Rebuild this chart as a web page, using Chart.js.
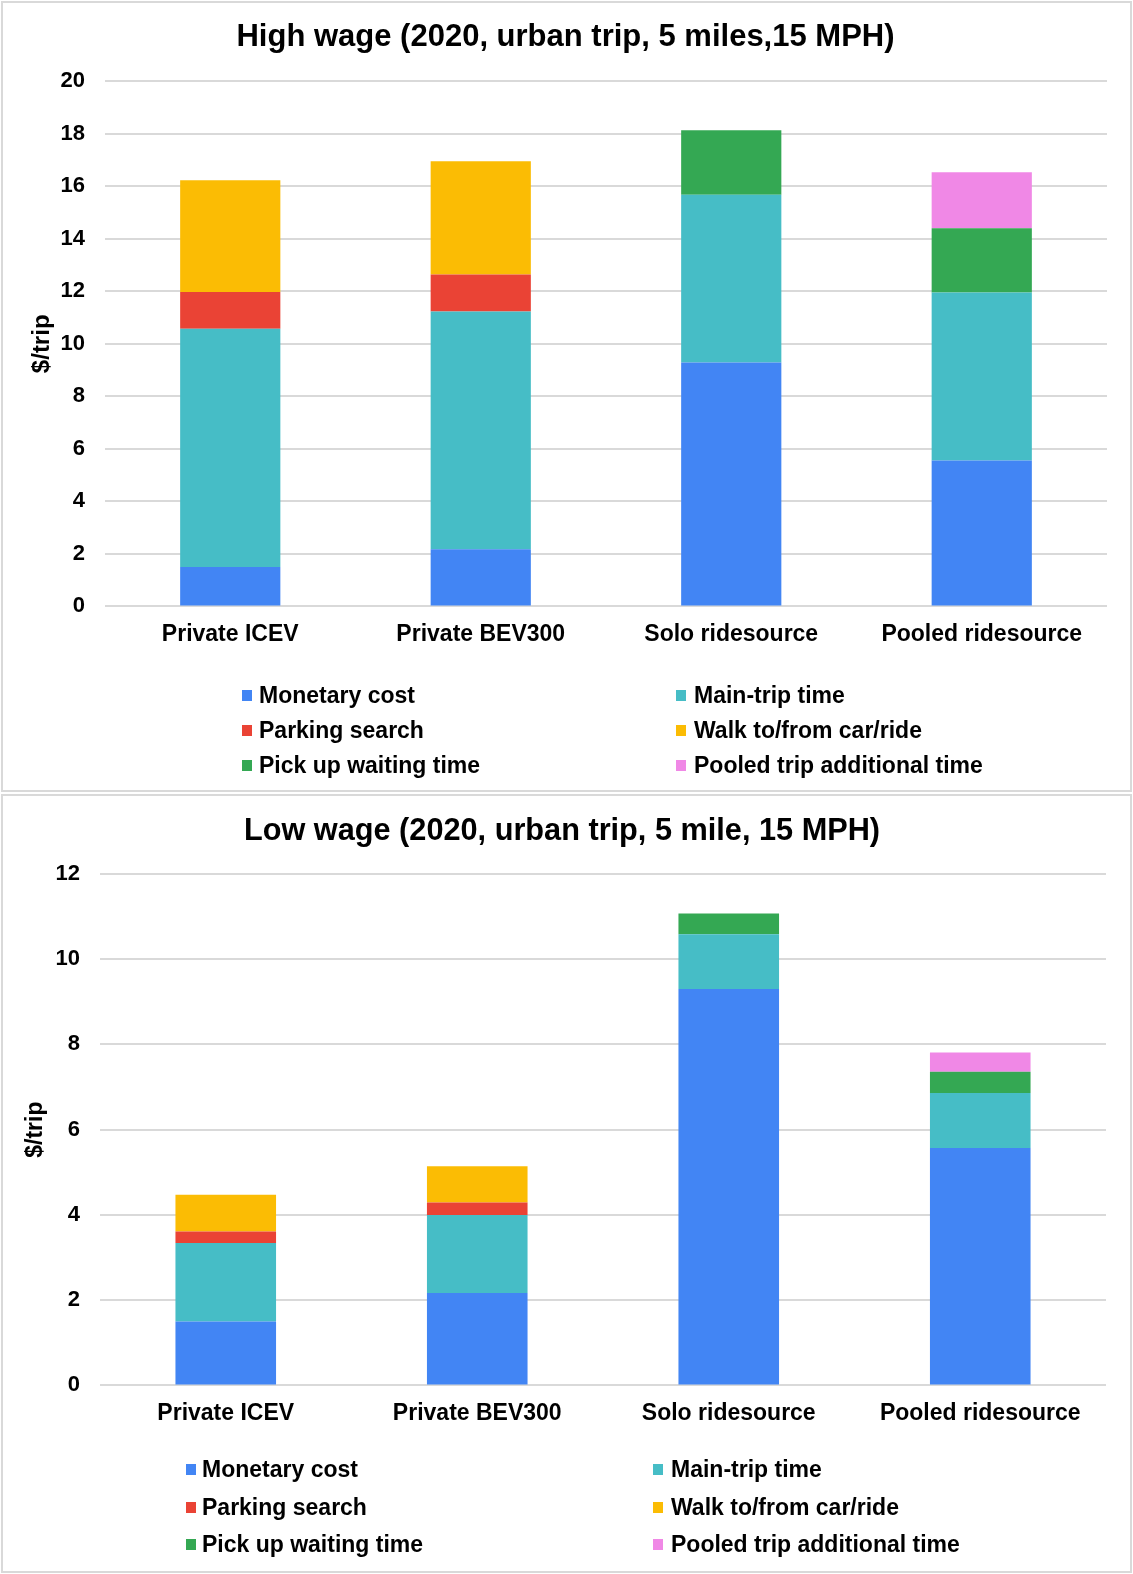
<!DOCTYPE html>
<html>
<head>
<meta charset="utf-8">
<script src="https://cdn.jsdelivr.net/npm/chart.js@4"></script>
<style>
  html, body { margin: 0; padding: 0; background: #fff; }
  body { width: 1133px; height: 1574px; position: relative; overflow: hidden;
         font-family: "Liberation Sans", Arial, sans-serif; }
  .frame { position: absolute; box-sizing: border-box; border: 2px solid #d9d9d9; background: #fff; }
  .wrap { position: absolute; left: 0; width: 1133px; }
  .legend { position: absolute; left: 0; top: 0; width: 1133px; height: 0; }
  .item { position: absolute; display: flex; align-items: center; font-weight: bold;
          font-size: 23px; color: #000; white-space: nowrap; line-height: 1; }
  .swatch { position: absolute; width: 10px; height: 11px; }
</style>
</head>
<body>
<div class="frame" style="left:1px; top:1px; width:1131px; height:791px;"></div>
<div class="frame" style="left:1px; top:794px; width:1131px; height:779px;"></div>

<div class="wrap" style="top:0; height:792px;"><canvas id="high"></canvas></div>
<div class="wrap" style="top:794px; height:780px;"><canvas id="low"></canvas></div>
<div class="legend" id="legendHigh"></div>
<div class="legend" id="legendLow"></div>

<script>
// Trip categories and cost components
const categories = ['Private ICEV', 'Private BEV300', 'Solo ridesource', 'Pooled ridesource'];
const seriesNames = ['Monetary cost', 'Main-trip time', 'Parking search',
                     'Walk to/from car/ride', 'Pick up waiting time', 'Pooled trip additional time'];
const seriesColors = ['#4285F4', '#46BDC6', '#EA4335', '#FBBC04', '#34A853', '#F088E6'];

// High wage, $/trip
const highMonetary = [1.50, 2.18, 9.29, 5.56];
const highMainTrip = [9.07, 9.05, 6.39, 6.39];
const highParking  = [1.40, 1.41, 0, 0];
const highWalk     = [4.26, 4.31, 0, 0];
const highPickup   = [0, 0, 2.45, 2.45];
const highPooled   = [0, 0, 0, 2.13];

// Low wage, $/trip
const lowMonetary = [1.50, 2.17, 9.30, 5.57];
const lowMainTrip = [1.84, 1.83, 1.28, 1.29];
const lowParking  = [0.27, 0.29, 0, 0];
const lowWalk     = [0.86, 0.85, 0, 0];
const lowPickup   = [0, 0, 0.49, 0.50];
const lowPooled   = [0, 0, 0, 0.45];

// Value axis ticks
const highTicks = [0, 2, 4, 6, 8, 10, 12, 14, 16, 18, 20];
const lowTicks  = [0, 2, 4, 6, 8, 10, 12];

const FONT = '"Liberation Sans", Arial, sans-serif';

function makeDatasets(series) {
  return series.map((values, i) => ({
    label: seriesNames[i],
    data: values,
    backgroundColor: seriesColors[i],
    borderWidth: 0,
    categoryPercentage: 1.0,
    barPercentage: 0.4
  }));
}

function makeChart(canvasId, title, series, ticks, geom) {
  return new Chart(document.getElementById(canvasId), {
    type: 'bar',
    data: { labels: categories, datasets: makeDatasets(series) },
    options: {
      responsive: true,
      maintainAspectRatio: false,
      animation: false,
      layout: { padding: { left: geom.padLeft, right: geom.padRight, top: 0, bottom: geom.padBottom } },
      plugins: {
        legend: { display: false },
        tooltip: { enabled: false },
        title: {
          display: true, text: title, color: '#000',
          font: { family: FONT, size: geom.titleSize, weight: 'bold', lineHeight: 1.2 },
          padding: { top: geom.titleTop, bottom: geom.titleBottom }
        }
      },
      scales: {
        x: {
          stacked: true,
          grid: { display: false, drawTicks: false },
          border: { display: false },
          ticks: { color: '#000', padding: 14, font: { family: FONT, size: 23, weight: 'bold', lineHeight: 1.2 } }
        },
        y: {
          stacked: true,
          min: ticks[0], max: ticks[ticks.length - 1],
          afterBuildTicks: (scale) => { scale.ticks = ticks.map(v => ({ value: v })); },
          afterFit: (scale) => { scale.width = geom.axisWidth; },
          grid: { color: '#d9d9d9', lineWidth: 2, drawTicks: false },
          border: { display: false },
          ticks: { color: '#000', padding: 20, font: { family: FONT, size: 22, weight: 'bold', lineHeight: 1.2 } },
          title: {
            display: true, text: '$/trip', color: '#000',
            font: { family: FONT, size: geom.yTitleSize, weight: 'bold', lineHeight: 1.2 },
            padding: { top: 4, bottom: 4 }
          }
        }
      }
    }
  });
}

function buildLegend(el, chart, layout) {
  chart.data.datasets.forEach((ds, i) => {
    const row = Math.floor(i / 2), col = i % 2;
    const cy = layout.rows[row];
    const sw = document.createElement('div');
    sw.className = 'swatch';
    sw.style.background = ds.backgroundColor;
    sw.style.left = layout.swatchX[col] + 'px';
    sw.style.top = (cy - 5) + 'px';
    el.appendChild(sw);
    const tx = document.createElement('div');
    tx.className = 'item';
    tx.textContent = ds.label;
    tx.style.left = layout.textX[col] + 'px';
    tx.style.top = (cy - 11) + 'px';
    tx.style.height = '23px';
    el.appendChild(tx);
  });
}

const highChart = makeChart('high', 'High wage (2020, urban trip, 5 miles,15 MPH)',
  [highMonetary, highMainTrip, highParking, highWalk, highPickup, highPooled], highTicks,
  { padLeft: 24, padRight: 26, padBottom: 130, axisWidth: 81, titleSize: 31,
    titleTop: 19, titleBottom: 25, yTitleSize: 24 });

const lowChart = makeChart('low', 'Low wage (2020, urban trip, 5 mile, 15 MPH)',
  [lowMonetary, lowMainTrip, lowParking, lowWalk, lowPickup, lowPooled], lowTicks,
  { padLeft: 18, padRight: 27, padBottom: 133, axisWidth: 82, titleSize: 30.7,
    titleTop: 19, titleBottom: 24, yTitleSize: 23 });

buildLegend(document.getElementById('legendHigh'), highChart,
  { rows: [695, 730, 765], swatchX: [242, 676], textX: [259, 694] });
buildLegend(document.getElementById('legendLow'), lowChart,
  { rows: [1469, 1507, 1544], swatchX: [186, 653], textX: [202, 671] });
</script>
</body>
</html>
